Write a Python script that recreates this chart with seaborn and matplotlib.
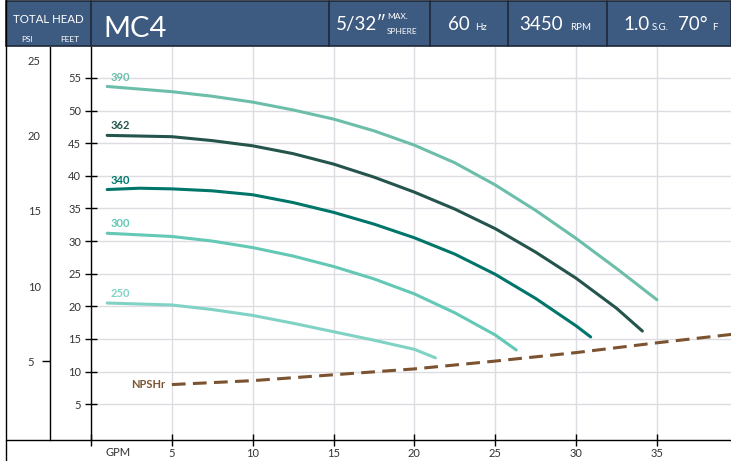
import numpy as np
import pandas as pd
import matplotlib.pyplot as plt
import seaborn as sns
from matplotlib.lines import Line2D
from matplotlib.patches import Rectangle

# pump curves: flow (GPM) vs total head (feet), one per impeller
gpm_390 = [1, 5, 7.5, 10, 12.5, 15, 17.5, 20, 22.5, 25, 27.5, 30, 32.5, 35]
ft_390 = [53.7, 52.9, 52.2, 51.3, 50.1, 48.7, 46.9, 44.7, 42.0, 38.6, 34.7, 30.4, 25.8, 21.0]
gpm_362 = [1, 5, 7.5, 10, 12.5, 15, 17.5, 20, 22.5, 25, 27.5, 30, 32.5, 34.1]
ft_362 = [46.2, 46.0, 45.4, 44.6, 43.4, 41.8, 39.8, 37.5, 34.9, 31.9, 28.3, 24.3, 19.7, 16.2]
gpm_340 = [1, 3, 5, 7.5, 10, 12.5, 15, 17.5, 20, 22.5, 25, 27.5, 30, 30.9]
ft_340 = [37.9, 38.1, 38.0, 37.7, 37.1, 35.9, 34.4, 32.6, 30.5, 28.0, 24.9, 21.2, 17.0, 15.3]
gpm_300 = [1, 5, 7.5, 10, 12.5, 15, 17.5, 20, 22.5, 25, 26.3]
ft_300 = [31.2, 30.7, 30.0, 29.0, 27.7, 26.1, 24.2, 21.9, 19.0, 15.6, 13.3]
gpm_250 = [1, 5, 7.5, 10, 12.5, 15, 17.5, 20, 21.3]
ft_250 = [20.5, 20.2, 19.5, 18.6, 17.4, 16.1, 14.8, 13.4, 12.1]
gpm_npshr = [5, 10, 15, 20, 25, 30, 35, 40]
ft_npshr = [8.0, 8.6, 9.5, 10.4, 11.6, 12.9, 14.4, 15.8]

curves = {
    "390": (gpm_390, ft_390, "#6cbeaa"),
    "362": (gpm_362, ft_362, "#24544c"),
    "340": (gpm_340, ft_340, "#00766a"),
    "300": (gpm_300, ft_300, "#63c8b5"),
    "250": (gpm_250, ft_250, "#80d3c4"),
}
npshr_color = "#7b5330"

x_ticks = [0, 5, 10, 15, 20, 25, 30, 35]
x_labels = ["", "5", "10", "15", "20", "25", "30", "35"]
ft_ticks = [5, 10, 15, 20, 25, 30, 35, 40, 45, 50, 55]
psi_ticks = [5, 10, 15, 20, 25]

rows = []
for name, (g, f, c) in curves.items():
    for gi, fi in zip(g, f):
        rows.append({"impeller": name, "gpm": gi, "feet": fi})
df = pd.DataFrame(rows)

sns.set_theme(style="white")
plt.rcParams["font.family"] = ["Lato", "DejaVu Sans"]

W, H = 731, 461
fig = plt.figure(figsize=(W / 100, H / 100), dpi=100)
fx = lambda px: px / W
fy = lambda py: 1 - py / H

ax = fig.add_axes([fx(91), fy(440), (W - 91) / W, (440 - 47) / H])

sns.lineplot(data=df, x="gpm", y="feet", hue="impeller", units="impeller",
             palette={k: v[2] for k, v in curves.items()}, estimator=None,
             sort=False, linewidth=2.2, legend=False, ax=ax)
sns.lineplot(x=gpm_npshr, y=ft_npshr, color=npshr_color, linewidth=2.2,
             estimator=None, sort=False, ax=ax)
ax.lines[-1].set_dashes([4.5, 2.4])
for ln in ax.lines:
    ln.set_solid_joinstyle("round")

for name, (g, f, c) in curves.items():
    ax.text(g[0] + 0.2, f[0] + 1.45, name, color=c, fontsize=8,
            fontweight="bold", ha="left", va="center")
ax.text(gpm_npshr[0] - 0.4, ft_npshr[0], "NPSHr", color=npshr_color,
        fontsize=8, fontweight="bold", ha="right", va="center")

ax.set_xlim(0, 39.58)
ax.set_ylim(-0.5, 59.75)
ax.set_xticks(x_ticks)
ax.set_xticklabels(x_labels)
ax.set_yticks(ft_ticks)
ax.set_xlabel("")
ax.set_ylabel("")
ax.grid(True, color="#dcdce2", linewidth=1)
ax.set_axisbelow(True)
ax.tick_params(bottom=True, left=True, direction="inout", length=8, width=1,
               color="black", labelsize=8, labelcolor="#333333")
ax.tick_params(axis="y", pad=3)
ax.tick_params(axis="x", pad=1.5)
for s in ["top", "right"]:
    ax.spines[s].set_visible(False)
for s in ["left", "bottom"]:
    ax.spines[s].set_color("black")
    ax.spines[s].set_linewidth(1)
ax.text(0.9, -0.033, "GPM", transform=ax.get_xaxis_transform(),
        fontsize=8, color="#333333", ha="left", va="center")

# PSI scale column (only the 5 psi tick shows a mark)
secax = ax.secondary_yaxis((50 - 91) / (W - 91),
                           functions=(lambda f: f / 2.31, lambda p: p * 2.31))
secax.set_yticks(psi_ticks)
secax.tick_params(left=True, length=6, width=1, direction="out", pad=10,
                  color="black", labelsize=8, labelcolor="#333333")
plt.setp(secax.get_yticklabels(), ha="left")
for t in secax.yaxis.get_major_ticks()[1:]:
    t.tick1line.set_visible(False)
secax.spines["left"].set_color("black")
secax.spines["left"].set_linewidth(1)

# frame lines
fig.add_artist(Line2D([fx(6), fx(6)], [fy(0), fy(461)], color="black", lw=1))
fig.add_artist(Line2D([fx(6), fx(91)], [fy(440), fy(440)], color="black", lw=1))

# header band
hdr = "#3d5a80"
edge = "#1e2838"
fig.add_artist(Rectangle((fx(6), fy(46)), (W - 6) / W, 45 / H,
                         facecolor=hdr, edgecolor=edge, lw=1.2))
for px in [91, 329, 430, 508, 607]:
    fig.add_artist(Line2D([fx(px), fx(px)], [fy(1), fy(46)], color=edge, lw=1.2))

def htext(px, py, s, size, ha="left"):
    fig.text(fx(px), fy(py), s, color="white", fontsize=size, ha=ha, va="baseline")

htext(48.5, 23, "TOTAL HEAD", 8.3, ha="center")
htext(27, 42, "PSI", 6, ha="center")
htext(70, 42, "FEET", 6, ha="center")
htext(103, 37, "MC4", 21)
htext(336, 30, "5/32\u2033", 13.5)
htext(387, 19, "MAX.", 6)
htext(387, 34, "SPHERE", 6)
htext(448, 30, "60", 13.5)
htext(475, 30, "Hz", 7)
htext(519, 30, "3450", 13.5)
htext(570, 30, "RPM", 7)
htext(623, 30, "1.0", 13.5)
htext(652, 30, "S.G.", 7)
htext(678, 30, "70\u00b0", 13.5)
htext(712, 30, "F", 7)

fig.savefig("out.png", dpi=100)
